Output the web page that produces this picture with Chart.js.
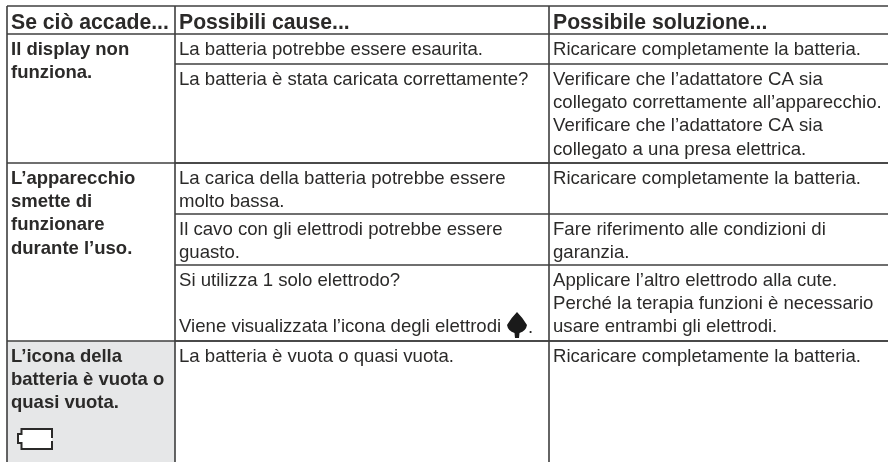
<!DOCTYPE html>
<html>
<head>
<meta charset="utf-8">
<title>Se ciò accade</title>
<script src="https://cdn.jsdelivr.net/npm/chart.js@4"></script>
<style>
    html, body { margin: 0; padding: 0; background: #fff; }
    canvas { display: block; }
</style>
</head>
<body>
<canvas id="tabella" width="888" height="462"></canvas>
<script>
// testi della tabella
const intestazioni = ['Se ciò accade...', 'Possibili cause...', 'Possibile soluzione...']

const problemi = [
    ['Il display non', 'funziona.'],
    ['L’apparecchio', 'smette di', 'funzionare', 'durante l’uso.'],
    ['L’icona della', 'batteria è vuota o', 'quasi vuota.']
]

const cause = [
    ['La batteria potrebbe essere esaurita.'],
    ['La batteria è stata caricata correttamente?'],
    ['La carica della batteria potrebbe essere', 'molto bassa.'],
    ['Il cavo con gli elettrodi potrebbe essere', 'guasto.'],
    ['Si utilizza 1 solo elettrodo?', '', 'Viene visualizzata l’icona degli elettrodi'],
    ['La batteria è vuota o quasi vuota.']
]

const soluzioni = [
    ['Ricaricare completamente la batteria.'],
    ['Verificare che l’adattatore CA sia', 'collegato correttamente all’apparecchio.', 'Verificare che l’adattatore CA sia', 'collegato a una presa elettrica.'],
    ['Ricaricare completamente la batteria.'],
    ['Fare riferimento alle condizioni di', 'garanzia.'],
    ['Applicare l’altro elettrodo alla cute.', 'Perché la terapia funzioni è necessario', 'usare entrambi gli elettrodi.'],
    ['Ricaricare completamente la batteria.']
]

// bordi delle colonne e delle righe
const bordiColonne = [7, 175, 549, 888]
const bordiRighe = [6, 34, 64, 163, 214, 265, 341, 462]
const righeProblemi = [1, 3, 6]
const righeCause = [1, 2, 3, 4, 5, 6]

const coloreTesto = '#2b2a29'
const coloreLinea = '#3f3f3f'

// una riga del bordo diventa un dataset con due punti
function segmento(x1, y1, x2, y2) {
    return {
        data: [{x: x1, y: y1}, {x: x2, y: y2}],
        borderColor: coloreLinea,
        borderWidth: 1.6,
        pointRadius: 0,
        showLine: true
    }
}

const datasets = []

bordiColonne.slice(0, 3).forEach(x => {
    datasets.push(segmento(x, bordiRighe[0], x, bordiRighe[7]))
})

bordiRighe.slice(0, 2).forEach(y => {
    datasets.push(segmento(bordiColonne[0], y, bordiColonne[3], y))
})
righeProblemi.slice(1).forEach(r => {
    datasets.push(segmento(bordiColonne[0], bordiRighe[r], bordiColonne[3], bordiRighe[r]))
})
righeCause.slice(1).forEach(r => {
    datasets.push(segmento(bordiColonne[1], bordiRighe[r], bordiColonne[3], bordiRighe[r]))
})

const cellaGrigia = {
    id: 'cellaGrigia',
    beforeDatasetsDraw(chart) {
        const {ctx, scales} = chart
        const x0 = scales.x.getPixelForValue(bordiColonne[0])
        const x1 = scales.x.getPixelForValue(bordiColonne[1])
        const y0 = scales.y.getPixelForValue(bordiRighe[6])
        const y1 = scales.y.getPixelForValue(bordiRighe[7])
        ctx.save()
        ctx.fillStyle = '#e6e7e8'
        ctx.fillRect(x0, y0, x1 - x0, y1 - y0)
        ctx.restore()
    }
}

const testoTabella = {
    id: 'testoTabella',
    afterDatasetsDraw(chart) {
        const {ctx, scales} = chart
        const px = v => scales.x.getPixelForValue(v)
        const py = v => scales.y.getPixelForValue(v)
        const pitch = 23.25
        const primaRiga = 20.9

        ctx.save()
        ctx.fillStyle = coloreTesto
        ctx.textBaseline = 'alphabetic'

        ctx.font = 'bold 21.2px "Liberation Sans"'
        intestazioni.forEach((t, i) => {
            ctx.fillText(t, px(bordiColonne[i] + 4), py(29))
        })

        ctx.font = 'bold 18.5px "Liberation Sans"'
        problemi.forEach((righe, i) => {
            righe.forEach((t, j) => {
                ctx.fillText(t, px(bordiColonne[0] + 4), py(bordiRighe[righeProblemi[i]] + primaRiga + j * pitch))
            })
        })

        ctx.font = '18.6px "Liberation Sans"'
        cause.forEach((righe, i) => {
            righe.forEach((t, j) => {
                ctx.fillText(t, px(bordiColonne[1] + 4), py(bordiRighe[righeCause[i]] + primaRiga + j * pitch))
            })
        })
        soluzioni.forEach((righe, i) => {
            righe.forEach((t, j) => {
                ctx.fillText(t, px(bordiColonne[2] + 4), py(bordiRighe[righeCause[i]] + primaRiga + j * pitch))
            })
        })

        // punto dopo l'icona
        ctx.fillText('.', px(528), py(333))

        // icona degli elettrodi
        ctx.fillStyle = '#1a1a1a'
        ctx.beginPath()
        ctx.moveTo(px(517), py(312))
        ctx.quadraticCurveTo(px(523), py(318), px(527), py(325))
        ctx.quadraticCurveTo(px(526), py(331), px(519.5), py(333))
        ctx.lineTo(px(519), py(338))
        ctx.lineTo(px(515), py(338))
        ctx.lineTo(px(514.5), py(333))
        ctx.quadraticCurveTo(px(508), py(331), px(507), py(325))
        ctx.quadraticCurveTo(px(511), py(318), px(517), py(312))
        ctx.fill()

        // icona della batteria
        ctx.strokeStyle = '#2b2a29'
        ctx.lineWidth = 2
        ctx.fillStyle = '#fff'
        ctx.beginPath()
        ctx.moveTo(px(52), py(438))
        ctx.lineTo(px(52), py(429))
        ctx.lineTo(px(21.5), py(429))
        ctx.lineTo(px(21.5), py(434))
        ctx.lineTo(px(18), py(434))
        ctx.lineTo(px(18), py(443))
        ctx.lineTo(px(21.5), py(443))
        ctx.lineTo(px(21.5), py(449))
        ctx.lineTo(px(52), py(449))
        ctx.lineTo(px(52), py(441))
        ctx.fill()
        ctx.stroke()
        ctx.restore()
    }
}

new Chart(document.getElementById('tabella').getContext('2d'), {
    type: 'scatter',
    data: {datasets: datasets},
    options: {
        responsive: false,
        animation: false,
        layout: {padding: 0},
        plugins: {legend: {display: false}, tooltip: {enabled: false}},
        scales: {
            x: {type: 'linear', display: false, min: 0, max: 888},
            y: {type: 'linear', display: false, min: 0, max: 462, reverse: true}
        }
    },
    plugins: [cellaGrigia, testoTabella]
})
</script>
</body>
</html>
